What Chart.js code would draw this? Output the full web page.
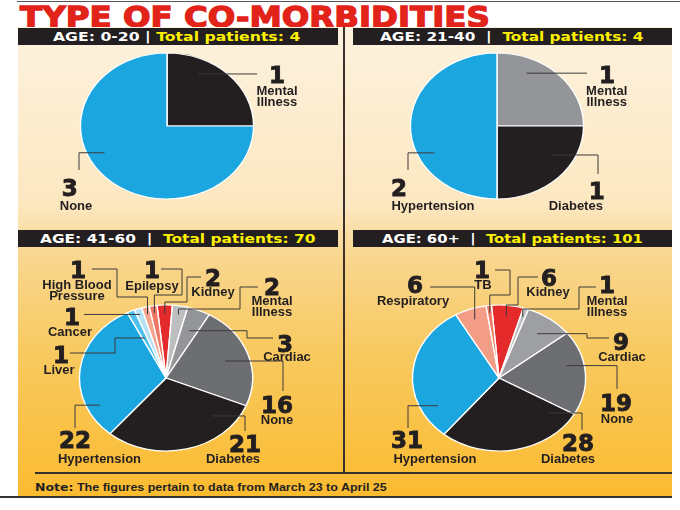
<!DOCTYPE html>
<html lang="en">
<head>
<meta charset="UTF-8">
<title>Type of co-morbidities</title>
<script src="https://cdn.jsdelivr.net/npm/chart.js@4.4.1/dist/chart.umd.min.js"></script>
<style>
  body { margin:0; width:680px; height:510px; background:#fff; position:relative; overflow:hidden; }
  .abs { position:absolute; }
  #topline { left:17px; top:1px; width:663px; height:1px; background:#555; }
  #title { left:20px; top:1px; color:#e2231a; font:bold 29px "DejaVu Sans"; line-height:32px;
           -webkit-text-stroke:1.3px #e2231a; white-space:nowrap; transform-origin:0 0; }
  #panel { left:18px; top:27px; width:654px; height:469px;
           background:linear-gradient(to bottom, #fdf2de 0%, #fce7c0 38%, #f9d792 48%, #f8ca62 68%, #fbbb30 100%); }
  #vdiv { left:343px; top:27px; width:2px; height:446px; background:#3b302b; }
  #hline { left:35px; top:472px; width:637px; height:2px; background:#3a3030; }
  #bline { left:0; top:496px; width:672px; height:2px; background:#333; }
  .hdr { background:#231f20; height:17px; }
  .htxt { font:bold 13px "DejaVu Sans"; line-height:17px; color:#fff; white-space:nowrap; transform-origin:0 0; }
  .htxt b { color:#fff200; }
  #note { left:35px; top:481px; font:bold 11px "Liberation Sans"; line-height:13px; color:#231f20;
          white-space:nowrap; transform-origin:0 0; }
  #note b { font-family:"DejaVu Sans"; }
</style>
</head>
<body>
<div class="abs" id="topline"></div>
<div class="abs" id="title">TYPE OF CO-MORBIDITIES</div>
<div class="abs" id="panel"></div>
<div class="abs" id="vdiv"></div>
<div class="abs" id="hline"></div>
<div class="abs" id="bline"></div>
<canvas id="c0" class="abs"></canvas>
<canvas id="c1" class="abs"></canvas>
<canvas id="c2" class="abs"></canvas>
<canvas id="c3" class="abs"></canvas>
<div id="headers"></div>
<div class="abs" id="note"></div>

<script>
const groups = ['AGE: 0-20', 'AGE: 21-40', 'AGE: 41-60', 'AGE: 60+'];
const totals = [4, 4, 70, 101];

const cats0 = ['Mental Illness', 'None'];
const vals0 = [1, 3];

const cats1 = ['Mental Illness', 'Diabetes', 'Hypertension'];
const vals1 = [1, 1, 2];

const cats2 = ['Kidney', 'Mental Illness', 'Cardiac', 'None', 'Diabetes', 'Hypertension',
               'Liver', 'Cancer', 'High Blood Pressure', 'Epilepsy'];
const vals2 = [2, 2, 3, 16, 21, 22, 1, 1, 1, 1];

const cats3 = ['Kidney', 'Mental Illness', 'Cardiac', 'None', 'Diabetes', 'Hypertension',
               'Respiratory', 'TB'];
const vals3 = [6, 1, 9, 19, 28, 31, 6, 1];

const noteText = 'The figures pertain to data from March 23 to April 25';

// ---- colours ----
const BLUE = '#1ba6df', BLACK = '#231f20';
const colors0 = [BLACK, BLUE];
const colors1 = ['#939598', BLACK, BLUE];
const colors2 = ['#e42a2a', '#bcbec0', '#939598', '#6d6e71', BLACK, BLUE, '#4fc0ec', '#b7e2f6', '#f5a48e', '#ef7763'];
const colors3 = ['#e42a2a', '#bcbec0', '#9d9fa2', '#6d6e71', BLACK, BLUE, '#f39c86', '#ee7a62'];

const SX = 1.186;   // the printed pies are stretched sideways
const R = 73;

// callout layout, page coords: n = number centre, t = name centre, a = [pos in slice, radius frac],
// r = leader route (null keeps previous coordinate)
const lay0 = [
  {n:[277,74.7], t:[277,90.5], wrap:true, a:[0.3,0.8], r:[[257,null]]},
  {n:[69.7,188], t:[76,205.3], a:[0.567,0.81], r:[[79,null],[null,170]]}
];
const lay1 = [
  {n:[607,74.7], t:[606.7,90.5], wrap:true, a:[0.28,0.8], r:[[587,null]]},
  {n:[596.7,191], t:[575.8,205.7], a:[0.35,0.76], r:[[598,null],[null,174]]},
  {n:[399,188], t:[433,205], a:[0.35,0.81], r:[[408,null],[null,170]]}
];
const lay2 = [
  {n:[213,277.5], t:[213,291.7], a:[0.5,0.88], r:[[null,302],[187,null],[null,277],[201,null]]},
  {n:[272,286.7], t:[272,300.3], wrap:true, a:[0.5,0.88], r:[[null,309],[240,null],[null,287],[258,null]]},
  {n:[285,343.3], t:[287,356.5], a:[0.5,0.7], r:[[247,null],[null,338],[273,null]]},
  {n:[277,405], t:[277,419], a:[0.5,0.72], r:[[283,null],[null,391]]},
  {n:[245,443.3], t:[233,458], a:[0.2,0.75], r:[[245,null],[null,431]]},
  {n:[75,440], t:[99.5,458], a:[0.21,0.85], r:[[75,null],[null,428]]},
  {n:[61,355], t:[59,369], a:[0.5,0.6], r:[[115,null],[null,353],[70,null]]},
  {n:[72,316.7], t:[70,331], a:[0.5,0.92], r:[[84,null]]},
  {n:[78,270], t:[77,284.5], wrap:true, a:[0.5,0.9], r:[[null,297],[117,null],[null,269],[92,null]]},
  {n:[152,270], t:[152,285], a:[0.5,0.9], r:[[null,295],[182,null],[null,269],[161,null]]}
];
const lay3 = [
  {n:[549,277.5], t:[548,291.7], a:[0.5,0.85], r:[[null,305],[518,null],[null,277],[538,null]]},
  {n:[607,285], t:[607,300], wrap:true, a:[0.5,0.88], r:[[null,309],[579,null],[null,287],[596,null]]},
  {n:[621,341.7], t:[622,356.5], a:[0.5,0.75], r:[[587,null],[null,338],[609,null]]},
  {n:[616,403], t:[617,418], a:[0.38,0.8], r:[[617,null],[null,389]]},
  {n:[578,442.5], t:[568,458], a:[0.1,0.75], r:[[582,null],[null,430]]},
  {n:[407,440], t:[435,458], a:[0.2,0.8], r:[[408,null],[null,428]]},
  {n:[415,285], t:[413,300], a:[0.5,0.85], r:[[null,287],[430,null]]},
  {n:[482,270], t:[483,284], a:[0.5,0.9], r:[[null,295],[510,null],[null,270],[495,null]]}
];

// squash / stretch the pie horizontally around its centre
const stretch = {
  id: 'stretch',
  beforeDatasetsDraw(chart) {
    const a = chart.chartArea, cx = (a.left + a.right) / 2, ctx = chart.ctx;
    ctx.save();
    ctx.translate(cx, 0); ctx.scale(SX, 1); ctx.translate(-cx, 0);
  },
  afterDatasetsDraw(chart) { chart.ctx.restore(); }
};

function splitLast(s) {
  const k = s.lastIndexOf(' ');
  return [s.slice(0, k), s.slice(k + 1)];
}

function callouts(items, ox, oy) {
  return {
    id: 'callouts',
    afterDraw(chart) {
      const ctx = chart.ctx, meta = chart.getDatasetMeta(0);
      const cats = chart.data.labels, vals = chart.data.datasets[0].data;
      ctx.save();
      items.forEach((it, i) => {
        const p = meta.data[i].getProps(['x', 'y', 'startAngle', 'endAngle', 'outerRadius'], true);
        const ang = p.startAngle + it.a[0] * (p.endAngle - p.startAngle);
        let px = p.x + Math.cos(ang) * p.outerRadius * it.a[1] * SX;
        let py = p.y + Math.sin(ang) * p.outerRadius * it.a[1];
        ctx.beginPath();
        ctx.moveTo(px, py);
        it.r.forEach(([x, y]) => {
          if (x !== null) px = x - ox;
          if (y !== null) py = y - oy;
          ctx.lineTo(px, py);
        });
        ctx.strokeStyle = '#3d3a3b';
        ctx.lineWidth = 1;
        ctx.stroke();

        ctx.fillStyle = BLACK;
        ctx.strokeStyle = BLACK;
        ctx.textAlign = 'center';
        ctx.textBaseline = 'alphabetic';
        ctx.font = 'bold 23px "DejaVu Sans"';
        ctx.lineWidth = 0.9;
        ctx.fillText(String(vals[i]), it.n[0] - ox, it.n[1] - oy + 8.4);
        ctx.strokeText(String(vals[i]), it.n[0] - ox, it.n[1] - oy + 8.4);

        ctx.font = 'bold 13px "Liberation Sans"';
        const lines = it.wrap ? splitLast(cats[i]) : [cats[i]];
        lines.forEach((ln, k) => {
          ctx.fillText(ln, it.t[0] - ox, it.t[1] - oy + 4.6 + k * 11);
        });
      });
      ctx.restore();
    }
  };
}

function makePie(id, box, center, cats, vals, colors, rotation, lay) {
  const cv = document.getElementById(id);
  cv.width = box.w; cv.height = box.h;
  cv.style.left = box.x + 'px'; cv.style.top = box.y + 'px';
  const bw = 1.2, side = 2 * R + bw;
  const cx = center[0] - box.x, cy = center[1] - box.y;
  return new Chart(cv, {
    type: 'pie',
    data: {
      labels: cats,
      datasets: [{ data: vals, backgroundColor: colors, borderColor: '#ffffff', borderWidth: bw }]
    },
    options: {
      responsive: false,
      animation: false,
      events: [],
      rotation: rotation,
      clip: false,
      layout: { padding: { left: cx - side / 2, right: box.w - cx - side / 2,
                           top: cy - side / 2, bottom: box.h - cy - side / 2 } },
      plugins: { legend: { display: false }, tooltip: { enabled: false } }
    },
    plugins: [stretch, callouts(lay, box.x, box.y)]
  });
}

makePie('c0', {x:18, y:48, w:325, h:180}, [167,126], cats0, vals0, colors0, 0, lay0);
makePie('c1', {x:346, y:48, w:326, h:180}, [497,126], cats1, vals1, colors1, 0, lay1);
makePie('c2', {x:18, y:248, w:325, h:224}, [166,378], cats2, vals2, colors2, -6, lay2);
makePie('c3', {x:346, y:248, w:326, h:224}, [499,378], cats3, vals3, colors3, -5, lay3);

// ---- headers, title, note ----
function fit(el, w) { el.style.transform = 'scaleX(' + (w / el.offsetWidth) + ')'; }

const hdrBars = [[18,28,320], [353,28,319], [18,230,320], [353,230,319]];
const hdrText = [[53,247], [380,263], [40,275], [382,261]];
const seps = [' | ', ' \u00a0|\u00a0 ', ' \u00a0|\u00a0 ', ' \u00a0|\u00a0 '];
const hwrap = document.getElementById('headers');
groups.forEach((g, i) => {
  const bar = document.createElement('div');
  bar.className = 'abs hdr';
  bar.style.left = hdrBars[i][0] + 'px'; bar.style.top = hdrBars[i][1] + 'px';
  bar.style.width = hdrBars[i][2] + 'px';
  hwrap.appendChild(bar);
  const t = document.createElement('div');
  t.className = 'abs htxt';
  t.style.left = hdrText[i][0] + 'px'; t.style.top = hdrBars[i][1] + 'px';
  t.innerHTML = g + seps[i] + '<b>Total patients: ' + totals[i] + '</b>';
  hwrap.appendChild(t);
  fit(t, hdrText[i][1]);
});

fit(document.getElementById('title'), 470);
const note = document.getElementById('note');
note.innerHTML = '<b>Note:</b> ' + noteText;
fit(note, 352);
</script>
</body>
</html>
